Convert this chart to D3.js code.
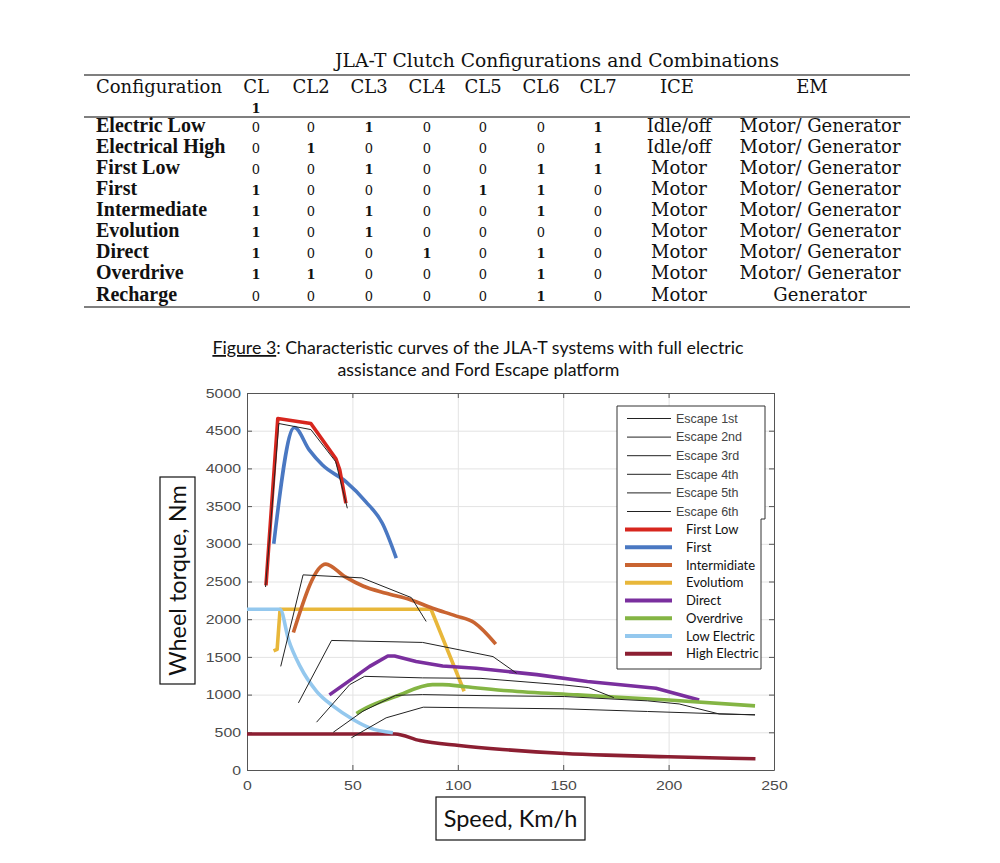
<!DOCTYPE html>
<html lang="en">
<head>
<meta charset="UTF-8">
<title>JLA-T clutch configurations and characteristic curves</title>
<script src="https://d3js.org/d3.v7.min.js"></script>
<style>
  body { margin: 0; background: #fff; }
  svg { display: block; }
</style>
</head>
<body>
<svg id="page" width="1000" height="863"></svg>
<script>
// ---- table data ----
const tableTitle = "JLA-T Clutch Configurations and Combinations";
const clutchCols = ["CL", "CL2", "CL3", "CL4", "CL5", "CL6", "CL7"];
const configRows = ["Electric Low", "Electrical High", "First Low", "First", "Intermediate",
                    "Evolution", "Direct", "Overdrive", "Recharge"];
const clutchStates = [
  [0, 0, 1, 0, 0, 0, 1],
  [0, 1, 0, 0, 0, 0, 1],
  [0, 0, 1, 0, 0, 1, 1],
  [1, 0, 0, 0, 1, 1, 0],
  [1, 0, 1, 0, 0, 1, 0],
  [1, 0, 1, 0, 0, 0, 0],
  [1, 0, 0, 1, 0, 1, 0],
  [1, 1, 0, 0, 0, 1, 0],
  [0, 0, 0, 0, 0, 1, 0]
];
const iceMode = ["Idle/off", "Idle/off", "Motor", "Motor", "Motor", "Motor", "Motor", "Motor", "Motor"];
const emMode = ["Motor/ Generator", "Motor/ Generator", "Motor/ Generator", "Motor/ Generator",
                "Motor/ Generator", "Motor/ Generator", "Motor/ Generator", "Motor/ Generator", "Generator"];

// ---- chart data: [speed km/h, wheel torque Nm] ----
const escape1 = [[8.8, 2427], [15.1, 4595], [30.3, 4515], [42.1, 4088], [47.6, 3471]];
const escape2 = [[16, 1374], [26.6, 2588], [54.5, 2548], [78, 2286], [85, 1970]];
const escape3 = [[24.4, 890], [40.1, 1718], [83.3, 1692], [108.7, 1549], [116.7, 1504], [127.9, 1283]];
const escape4 = [[33, 634], [48.7, 1132], [55.8, 1242], [83.3, 1222], [111, 1215], [150.7, 1127], [162, 1093], [174, 960]];
const escape5 = [[40.9, 500], [55, 780], [70.5, 990], [83.3, 1000], [111, 987], [150.7, 974], [190, 917], [205, 876], [224, 743], [241, 733]];
const escape6 = [[49.5, 427], [66, 692], [83.6, 833], [150.7, 811], [190, 776], [241, 730]];

const firstLow = [[9, 2450], [14.6, 4661], [30.3, 4595], [42.1, 4132], [44, 3980], [46.9, 3538]];
const first = [[12.7, 3000], [22.5, 4542], [29.6, 4242], [35.8, 4044], [46.9, 3824], [56.3, 3560], [64.2, 3273], [70.8, 2811]];
const intermidiate = [[22, 1824], [37.4, 2731], [46.4, 2564], [55, 2440], [66, 2343], [77.8, 2255], [88, 2145], [99, 2044], [107.7, 1956], [118, 1670]];
const evolutiom = [[12.6, 1580], [14.3, 1600], [15.7, 2132], [87.3, 2132], [103, 1044]];
const direct = [[39.1, 996], [58.2, 1374], [66.8, 1512], [70, 1512], [80.2, 1440], [92.8, 1380], [108.7, 1350], [137.5, 1265], [161.5, 1173], [194, 1084], [214.5, 929]];
const overdrive = [[51.9, 749], [56.6, 824], [70.8, 978], [88, 1132], [92.8, 1132], [103.6, 1105], [124, 1050], [156.7, 996], [200, 929], [241, 850]];
const lowElectric = [[0, 2132], [15.7, 2132], [19.7, 1727], [25.2, 1374], [33, 1044], [40.9, 846], [50.3, 670], [58.2, 559], [69.2, 493]];
const highElectric = [[0, 478], [70.2, 478], [82, 390], [100.6, 325], [121.3, 272], [150.7, 219], [170.4, 197], [199.9, 175], [241.2, 149]];

const escapeNames = ["Escape 1st", "Escape 2nd", "Escape 3rd", "Escape 4th", "Escape 5th", "Escape 6th"];
const modeNames = ["First Low", "First", "Intermidiate", "Evolutiom", "Direct", "Overdrive", "Low Electric", "High Electric"];
const modeColors = ["#d7261e", "#4a78c2", "#c96431", "#e8b73a", "#7a2f9e", "#84b544", "#94c8ee", "#8c1f32"];

const xTicks = [0, 50, 100, 150, 200, 250];
const yTicks = [0, 500, 1000, 1500, 2000, 2500, 3000, 3500, 4000, 4500, 5000];

// ---------------------------------------------------------------
const svg = d3.select("#page");
svg.append("rect").attr("width", 1000).attr("height", 863).attr("fill", "#fff");

// ---- table ----
const tbl = svg.append("g").attr("fill", "#111");
const serif = "'DejaVu Serif', serif";
tbl.append("text").attr("x", 557).attr("y", 67).attr("text-anchor", "middle")
  .attr("font-family", serif).attr("font-size", 18.5).attr("textLength", 444)
  .attr("lengthAdjust", "spacingAndGlyphs").text(tableTitle);

[75, 117, 307].forEach(yy => {
  tbl.append("line").attr("x1", 84).attr("x2", 910).attr("y1", yy).attr("y2", yy)
    .attr("stroke", "#555").attr("stroke-width", 1.5);
});

const colX = [256, 311, 369, 427, 483, 541, 598];
const iceX = 679, emX = 820;

tbl.append("text").attr("x", 96).attr("y", 93).attr("font-family", serif)
  .attr("font-size", 18).attr("textLength", 126).attr("lengthAdjust", "spacingAndGlyphs")
  .text("Configuration");
clutchCols.forEach((c, i) => {
  tbl.append("text").attr("x", colX[i]).attr("y", 93).attr("text-anchor", "middle")
    .attr("font-family", serif).attr("font-size", 18).text(c);
});
tbl.append("text").attr("x", colX[0]).attr("y", 112.5).attr("text-anchor", "middle")
  .attr("font-family", serif).attr("font-size", 13).attr("font-weight", "bold").text("1");
tbl.append("text").attr("x", iceX - 2).attr("y", 93).attr("text-anchor", "middle")
  .attr("font-family", serif).attr("font-size", 18).text("ICE");
tbl.append("text").attr("x", emX - 8).attr("y", 93).attr("text-anchor", "middle")
  .attr("font-family", serif).attr("font-size", 18).text("EM");

const rowY = configRows.map((d, i) => i < 8 ? 131.5 + 21 * i : 300.5);
configRows.forEach((r, i) => {
  tbl.append("text").attr("x", 96).attr("y", rowY[i])
    .attr("font-family", "'Liberation Serif', serif").attr("font-weight", "bold")
    .attr("font-size", 20).text(r);
  clutchStates[i].forEach((v, j) => {
    tbl.append("text").attr("x", colX[j]).attr("y", rowY[i]).attr("text-anchor", "middle")
      .attr("font-family", serif).attr("font-size", 13)
      .attr("font-weight", v ? "bold" : "normal").text(v);
  });
  tbl.append("text").attr("x", iceX).attr("y", rowY[i]).attr("text-anchor", "middle")
    .attr("font-family", serif).attr("font-size", 18).text(iceMode[i]);
  tbl.append("text").attr("x", emX).attr("y", rowY[i]).attr("text-anchor", "middle")
    .attr("font-family", serif).attr("font-size", 18).text(emMode[i]);
});

// ---- caption ----
const cap = svg.append("text").attr("x", 478).attr("y", 354).attr("text-anchor", "middle")
  .attr("font-family", "Lato, sans-serif").attr("font-size", 17.8).attr("fill", "#111");
cap.append("tspan").style("text-decoration", "underline").text("Figure 3");
cap.append("tspan").text(": Characteristic curves of the JLA-T systems with full electric");
svg.append("text").attr("x", 478.5).attr("y", 376).attr("text-anchor", "middle")
  .attr("font-family", "Lato, sans-serif").attr("font-size", 17.8).attr("fill", "#111")
  .text("assistance and Ford Escape platform");

// ---- chart ----
const plot = { left: 247, right: 774, top: 393, bottom: 770 };
const x = d3.scaleLinear().domain([0, 250]).range([plot.left, plot.right]);
const y = d3.scaleLinear().domain([0, 5000]).range([plot.bottom, plot.top]);
const W = plot.right - plot.left, H = plot.bottom - plot.top;

// grid
svg.append("g").attr("transform", `translate(0,${plot.bottom})`)
  .call(d3.axisBottom(x).tickValues(xTicks).tickSize(-H).tickFormat(""))
  .call(g => g.select(".domain").remove())
  .call(g => g.selectAll("line").attr("stroke", "#e3e3e3"));
svg.append("g").attr("transform", `translate(${plot.left},0)`)
  .call(d3.axisLeft(y).tickValues(yTicks).tickSize(-W).tickFormat(""))
  .call(g => g.select(".domain").remove())
  .call(g => g.selectAll("line").attr("stroke", "#e3e3e3"));

function styleAxis(g) {
  g.select(".domain").attr("stroke", "#555");
  g.selectAll(".tick line").attr("stroke", "#555");
  g.selectAll(".tick text").attr("fill", "#4a4a4a")
    .attr("font-family", "'Liberation Sans', Arial, sans-serif").attr("font-size", 13)
    .attr("textLength", function () { return this.textContent.length * 8.8; })
    .attr("lengthAdjust", "spacingAndGlyphs");
}
const plain = d3.format("d");
svg.append("g").attr("transform", `translate(0,${plot.bottom})`)
  .call(d3.axisBottom(x).tickValues(xTicks).tickFormat(plain).tickSizeInner(-5).tickSizeOuter(0).tickPadding(11))
  .call(styleAxis);
svg.append("g").attr("transform", `translate(${plot.left},0)`)
  .call(d3.axisLeft(y).tickValues(yTicks).tickFormat(plain).tickSizeInner(-5).tickSizeOuter(0).tickPadding(6))
  .call(styleAxis);
svg.append("g").attr("transform", `translate(0,${plot.top})`)
  .call(d3.axisTop(x).tickValues(xTicks).tickSizeInner(-5).tickSizeOuter(0).tickFormat(""))
  .call(styleAxis);
svg.append("g").attr("transform", `translate(${plot.right},0)`)
  .call(d3.axisRight(y).tickValues(yTicks).tickSizeInner(-5).tickSizeOuter(0).tickFormat(""))
  .call(styleAxis);

const lineLinear = d3.line().x(d => x(d[0])).y(d => y(d[1]));
const lineSmooth = d3.line().x(d => x(d[0])).y(d => y(d[1])).curve(d3.curveMonotoneX);

const modeSeries = [firstLow, first, intermidiate, evolutiom, direct, overdrive, lowElectric, highElectric];
const smoothSet = new Set([first, intermidiate, lowElectric, highElectric, overdrive]);
const drawOrder = [7, 3, 6, 2, 1, 0, 4, 5];
drawOrder.forEach(i => {
  svg.append("path").datum(modeSeries[i])
    .attr("fill", "none").attr("stroke", modeColors[i]).attr("stroke-width", 3.6)
    .attr("stroke-linejoin", "round").attr("stroke-linecap", "butt")
    .attr("d", smoothSet.has(modeSeries[i]) ? lineSmooth : lineLinear);
});

const escapeSeries = [escape1, escape2, escape3, escape4, escape5, escape6];
escapeSeries.forEach(s => {
  svg.append("path").datum(s)
    .attr("fill", "none").attr("stroke", "#222").attr("stroke-width", 1)
    .attr("d", lineLinear);
});

// ---- legend ----
const leg = svg.append("g");
leg.append("path")
  .attr("d", "M617,406 H765 V519 H761 V669 H617 Z")
  .attr("fill", "#fff").attr("stroke", "#333").attr("stroke-width", 1);
escapeNames.forEach((n, i) => {
  const yy = 418.5 + 18.6 * i;
  leg.append("line").attr("x1", 627).attr("x2", 671).attr("y1", yy).attr("y2", yy)
    .attr("stroke", "#222").attr("stroke-width", 1);
  leg.append("text").attr("x", 676).attr("y", yy).attr("dy", "0.35em")
    .attr("font-family", "'Liberation Sans', Arial, sans-serif").attr("font-size", 12.5)
    .attr("fill", "#444").text(n);
});
modeNames.forEach((n, i) => {
  const yy = 529.5 + 17.75 * i;
  leg.append("line").attr("x1", 625).attr("x2", 672).attr("y1", yy).attr("y2", yy)
    .attr("stroke", modeColors[i]).attr("stroke-width", 4);
  leg.append("text").attr("x", 686).attr("y", yy).attr("dy", "0.35em")
    .attr("font-family", "Lato, sans-serif").attr("font-size", 13)
    .attr("fill", "#111").text(n);
});

// ---- axis titles in boxes ----
svg.append("rect").attr("x", 160).attr("y", 477).attr("width", 35).attr("height", 207)
  .attr("fill", "#fff").attr("stroke", "#111").attr("stroke-width", 1.2);
svg.append("text").attr("transform", "translate(186,580.5) rotate(-90)")
  .attr("text-anchor", "middle").attr("font-family", "Lato, sans-serif")
  .attr("font-size", 23.5).attr("fill", "#111").text("Wheel torque, Nm");

svg.append("rect").attr("x", 436).attr("y", 797).attr("width", 149).attr("height", 43)
  .attr("fill", "#fff").attr("stroke", "#111").attr("stroke-width", 1.2);
svg.append("text").attr("x", 510.5).attr("y", 826.5)
  .attr("text-anchor", "middle").attr("font-family", "Lato, sans-serif")
  .attr("font-size", 23.5).attr("fill", "#111").text("Speed, Km/h");
</script>
</body>
</html>
